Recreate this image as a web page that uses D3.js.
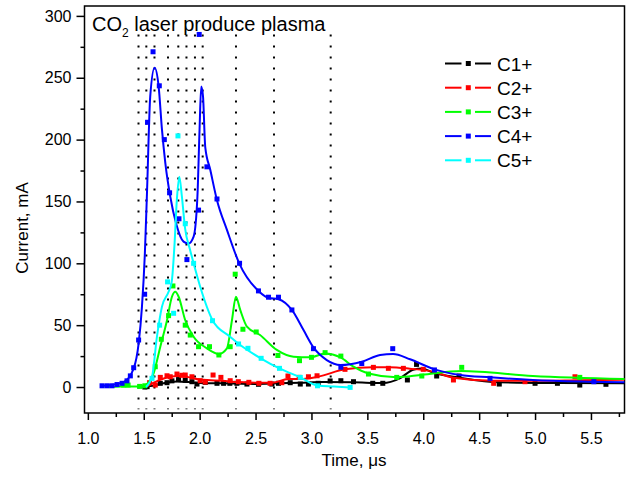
<!DOCTYPE html>
<html><head><meta charset="utf-8">
<script src="https://cdn.jsdelivr.net/npm/d3@7"></script>
<style>body{margin:0;background:#fff} text{font-family:"Liberation Sans",Arial,sans-serif}</style>
</head><body><svg id="c" width="628" height="477"></svg>
<script>
const seriesNames = ["C1+","C2+","C3+","C4+","C5+"];
const seriesColors = ["#000000","#ff0000","#00ff00","#0000ff","#00ffff"];

// measured markers [time µs, current mA]
const c1Points = [[1.51,0],[1.53,0.3],[1.648,3],[1.708,3.5],[1.752,5],[1.811,6],[1.871,5.5],[1.931,4.3],[1.976,2.4],[2.05,3.8],[2.155,3],[2.214,3],[2.27,3],[2.333,3],[2.423,2.4],[2.526,2.2],[2.646,2.4],[2.705,3],[2.81,3.5],[2.9,2.4],[2.973,2.4],[3.06,3],[3.167,4.9],[3.263,5.1],[3.376,4.3],[3.548,3],[3.638,3],[3.858,5.7],[3.94,18.3],[4.12,8.9],[4.32,8.9],[4.68,2.4],[5.0,3],[5.2,3],[5.4,1.6],[5.634,2.2]];
const c2Points = [[1.552,3.5],[1.603,1.6],[1.648,7.8],[1.708,9.1],[1.737,8.3],[1.797,10.5],[1.84,9.5],[1.871,9.7],[1.931,8.3],[2.005,5.1],[2.05,4],[2.12,9.7],[2.19,7.8],[2.273,5.1],[2.346,4.3],[2.44,3.8],[2.53,3],[2.63,3],[2.735,3.5],[2.79,8.9],[2.89,7.8],[2.973,8.3],[3.05,9.1],[3.3,14.3],[3.554,15.9],[3.688,15.1],[3.822,15.1],[4.0,14.3],[4.27,5.7],[4.63,3],[4.91,4.3],[5.357,8.3]];
const c3Points = [[1.32,1.6],[1.36,1.6],[1.463,0.5],[1.51,1],[1.603,16.4],[1.657,38.6],[1.722,57.7],[1.761,81.7],[1.871,50],[1.916,42],[1.99,32.6],[2.088,32.6],[2.172,25.9],[2.273,32.6],[2.318,91.2],[2.387,46.7],[2.506,44.5],[2.7,25.5],[2.893,21.3],[3.0,24],[3.122,27.8],[3.263,25],[3.51,10.5],[3.763,7.8],[3.987,8.9],[4.344,15.9],[5.4,7.8]];
const c4Points = [[1.127,1],[1.172,1],[1.216,1],[1.261,2],[1.306,3],[1.35,5],[1.38,9],[1.41,15.6],[1.454,38],[1.508,75],[1.534,214],[1.583,271],[1.639,243.5],[1.684,200],[1.731,157],[1.815,136],[1.886,103],[1.99,143],[1.996,285],[2.065,178],[2.155,152],[2.357,100],[2.526,77.7],[2.616,72.6],[2.705,72.6],[2.825,62.3],[3.018,31],[3.263,16],[3.45,19],[3.727,31],[4.1,13.8],[4.597,7],[5.526,4.3]];
const c5Points = [[1.574,7],[1.642,50],[1.713,85],[1.767,59.6],[1.806,203],[1.871,132],[1.946,100],[2.115,53.6],[2.348,34.8],[2.432,31.3],[2.55,23.2],[2.714,15.1],[2.9,7.8],[3.054,1],[3.346,-0.3]];

// smooth fitted curves
const c1Curve = [[1.5,0],[1.6,1.5],[1.7,3.5],[1.8,4.5],[1.9,4],[2.0,3.2],[2.2,3],[2.5,2.5],[2.7,3],[2.9,3.5],[3.1,4],[3.376,3.8],[3.64,3.2],[3.79,7],[3.91,14],[3.99,15],[4.09,11.5],[4.33,7.5],[4.68,3.8],[5.2,3.2],[5.8,3]];
const c2Curve = [[1.52,0],[1.6,4],[1.7,7.5],[1.8,9],[1.9,8],[2.0,6],[2.1,5.5],[2.2,5],[2.35,4],[2.5,3.5],[2.65,3.5],[2.79,6.5],[2.9,6.5],[3.06,8.4],[3.3,14.3],[3.55,16],[3.7,16],[3.88,14.8],[4.09,12.4],[4.27,7.5],[4.63,5],[5.0,5],[5.4,5.5],[5.8,6]];
const c3Curve = [[1.15,0],[1.3,0.5],[1.45,0.5],[1.52,2],[1.588,11],[1.648,32.6],[1.708,54],[1.752,73],[1.782,77],[1.812,73],[1.871,54],[1.946,40.7],[2.065,31.3],[2.17,26.7],[2.244,31.3],[2.289,54],[2.324,73],[2.363,62.3],[2.423,48.8],[2.54,42],[2.69,30],[2.84,24.5],[2.99,24],[3.12,27],[3.26,24],[3.376,16.4],[3.51,11],[3.76,8],[3.99,10],[4.34,13],[4.98,9],[5.8,6.5]];
const c4Curve = [[1.13,1],[1.32,4],[1.41,15],[1.454,35],[1.484,65],[1.51,108],[1.53,160],[1.558,235],[1.597,258],[1.633,243],[1.663,208],[1.693,181],[1.737,154],[1.79,132],[1.856,117.5],[1.9,116],[1.946,121.6],[1.98,154],[1.999,208],[2.014,243],[2.03,235],[2.05,194],[2.095,175.6],[2.155,151],[2.244,127],[2.354,100],[2.526,77.7],[2.62,72],[2.705,71],[2.825,62.3],[2.929,46],[3.018,32],[3.137,21.8],[3.26,17.8],[3.45,20.5],[3.614,25.9],[3.73,26.7],[3.882,22.4],[4.1,14.3],[4.33,9.7],[4.6,7.8],[4.98,5.7],[5.52,4.3],[5.8,3.8]];
const c5Curve = [[1.52,0],[1.574,8.4],[1.618,40.7],[1.663,65],[1.722,77],[1.75,85],[1.775,115],[1.795,150],[1.818,170],[1.84,155],[1.87,128],[1.914,111],[1.946,100],[2.005,81],[2.115,54],[2.267,41],[2.348,35],[2.55,23],[2.714,15],[2.9,7.8],[3.054,1.3],[3.2,0.5],[3.346,-0.3]];

const dottedLinesX = [1.453,1.523,1.596,1.717,1.809,1.882,1.958,2.027,2.325,2.665,3.172];
const xTickValues = [1.0,1.5,2.0,2.5,3.0,3.5,4.0,4.5,5.0,5.5];
const xMinorValues = [1.25,1.75,2.25,2.75,3.25,3.75,4.25,4.75,5.25,5.75];
const yTickValues = [0,50,100,150,200,250,300];
const yMinorValues = [-25,25,75,125,175,225,275];
const titleMain = "CO", titleSub = "2", titleRest = " laser produce plasma";
const xTitle = "Time, \u03bcs", yTitle = "Current, mA";

const pointsAll = [c1Points,c2Points,c3Points,c4Points,c5Points];
const curvesAll = [c1Curve,c2Curve,c3Curve,c4Curve,c5Curve];

const L = 84.5, R = 624.5, T = 6, B = 413;
const x = d3.scaleLinear().domain([0.97,5.8]).range([L,R]);
const y = d3.scaleLinear().domain([-21,308]).range([B,T]);
const svg = d3.select("#c");

// dotted vertical lines
svg.append("g").selectAll("line").data(dottedLinesX).join("line")
  .attr("x1",d=>x(d)).attr("x2",d=>x(d)).attr("y1",y(285)).attr("y2",y(-18))
  .attr("stroke","#000").attr("stroke-width",2).attr("stroke-dasharray","2,9");

// axes
const gx = svg.append("g").attr("transform",`translate(0,${B})`)
  .call(d3.axisBottom(x).tickValues(xTickValues).tickFormat(d3.format(".1f")).tickSize(7).tickPadding(13).tickSizeOuter(0));
const gxm = svg.append("g").attr("transform",`translate(0,${B})`)
  .call(d3.axisBottom(x).tickValues(xMinorValues).tickFormat("").tickSize(4).tickSizeOuter(0));
const gy = svg.append("g").attr("transform",`translate(${L},0)`)
  .call(d3.axisLeft(y).tickValues(yTickValues).tickSize(8).tickPadding(5).tickSizeOuter(0));
const gym = svg.append("g").attr("transform",`translate(${L},0)`)
  .call(d3.axisLeft(y).tickValues(yMinorValues.filter(v=>v>-21)).tickFormat("").tickSize(4).tickSizeOuter(0));
[gx,gxm,gy,gym].forEach(g=>{g.select(".domain").remove(); g.selectAll("line").attr("stroke-width",1.5);
  g.selectAll("text").attr("font-size",16).attr("font-family","Liberation Sans, Arial, sans-serif").attr("fill","#000");});

svg.append("rect").attr("x",L).attr("y",T).attr("width",R-L).attr("height",B-T)
  .attr("fill","none").attr("stroke","#000").attr("stroke-width",1.5);

// curves & markers
const line = d3.line().x(d=>x(d[0])).y(d=>y(d[1])).curve(d3.curveMonotoneX);
const ms = 5;
pointsAll.forEach((pts,i)=>{
  const g = svg.append("g");
  g.append("path").attr("d",line(curvesAll[i])).attr("fill","none").attr("stroke",seriesColors[i]).attr("stroke-width",2);
  g.selectAll("rect").data(pts).join("rect")
    .attr("x",d=>x(d[0])-ms/2).attr("y",d=>y(d[1])-ms/2).attr("width",ms).attr("height",ms)
    .attr("fill",seriesColors[i]);
});

// title
const t = svg.append("text").attr("x",92).attr("y",31).attr("font-size",20).attr("fill","#000");
t.append("tspan").text(titleMain);
t.append("tspan").attr("font-size",12).attr("dy",6).text(titleSub);
t.append("tspan").attr("dy",-6).text(titleRest);

// axis titles
svg.append("text").attr("x",354).attr("y",466).attr("text-anchor","middle").attr("font-size",17).text(xTitle);
svg.append("text").attr("transform","translate(28,228) rotate(-90)").attr("text-anchor","middle").attr("font-size",17).text(yTitle);

// legend
const lg = svg.append("g");
seriesNames.forEach((n,i)=>{
  const cy = 63.5 + i*24.2;
  lg.append("line").attr("x1",445).attr("x2",461.5).attr("y1",cy).attr("y2",cy).attr("stroke",seriesColors[i]).attr("stroke-width",2);
  lg.append("line").attr("x1",475).attr("x2",491).attr("y1",cy).attr("y2",cy).attr("stroke",seriesColors[i]).attr("stroke-width",2);
  lg.append("rect").attr("x",468.3-ms/2).attr("y",cy-ms/2).attr("width",ms).attr("height",ms).attr("fill",seriesColors[i]);
  lg.append("text").attr("x",497).attr("y",cy+7).attr("font-size",19).attr("fill","#000").text(n);
});
</script></body></html>
